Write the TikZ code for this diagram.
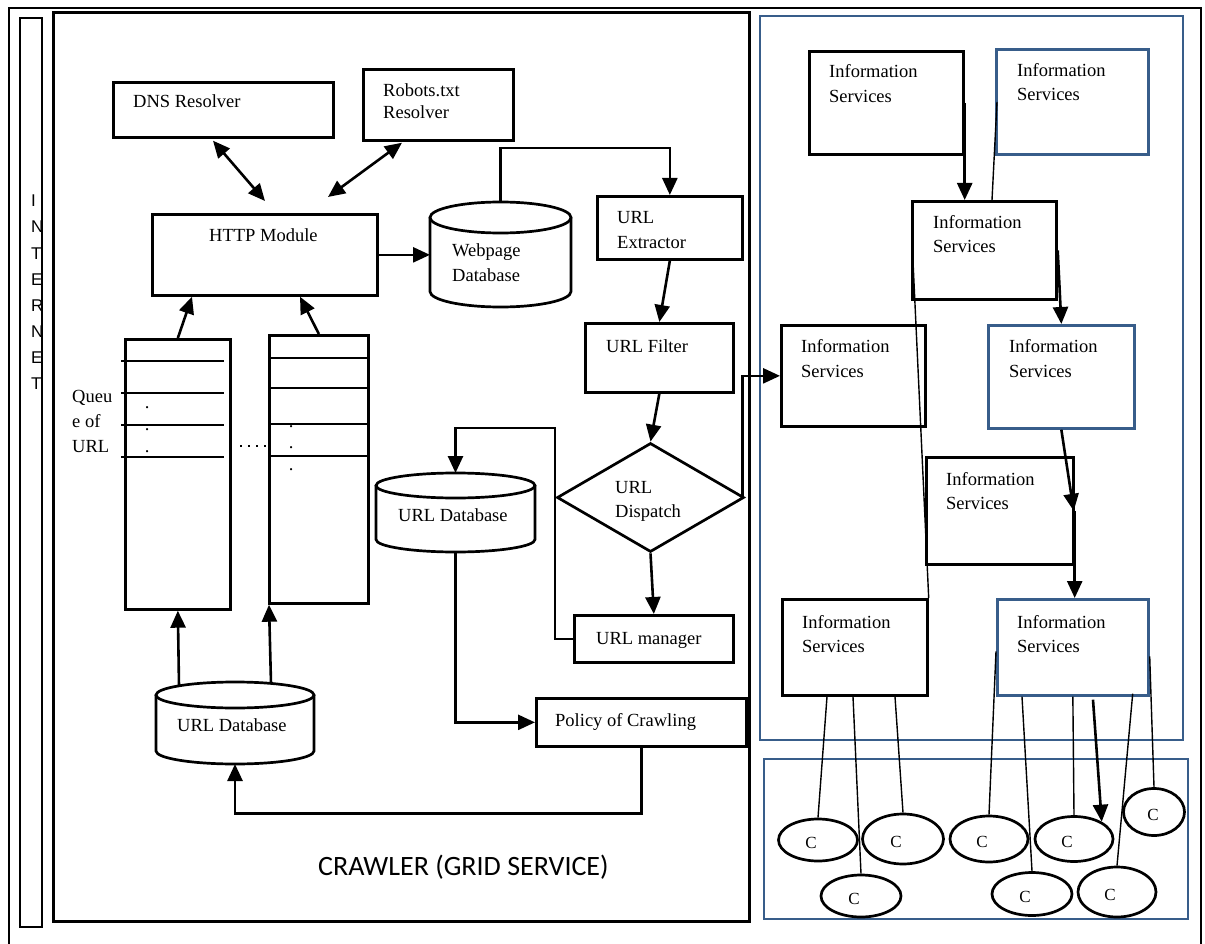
\documentclass[tikz,border=0pt]{standalone}
\usepackage{fontspec}
\setmainfont{Liberation Serif}
\newfontfamily\sansA{Liberation Sans}
\newfontfamily\calib{Carlito}
\usetikzlibrary{arrows.meta,shapes.geometric,calc}
\definecolor{frameblue}{HTML}{385D8A}
\newcommand\mycyl[6]{%
  \pgfmathsetmacro\cyCx{(#2+#4)/2}\pgfmathsetmacro\cyRx{(#4-#2)/2}%
  \pgfmathsetmacro\cyW{#4-#2}\pgfmathsetmacro\cyH{#5-#3}%
  \pgfmathsetmacro\cyYa{#3+#6}\pgfmathsetmacro\cyYb{#5-#6}%
  \node[inner sep=0pt, outer sep=0pt, minimum width=\cyW pt, minimum height=\cyH pt, anchor=north west] (#1) at (#2,#3) {};
  \draw[line width=2.7pt] (\cyCx,\cyYa) ellipse [x radius=\cyRx pt, y radius=#6pt];
  \draw[line width=2.7pt] (#2,\cyYa) -- (#2,\cyYb) arc[start angle=180,end angle=360,x radius=\cyRx pt,y radius=#6pt] -- (#4,\cyYa);
}
\tikzset{
  box/.style={draw, line width=2.7pt, inner sep=0pt, anchor=north west},
  bbox/.style={box, draw=frameblue},
  txt/.style={anchor=base west, inner sep=0pt, font=\fontsize{18.5}{22}\selectfont},
  itxt/.style={anchor=base west, inner sep=0pt, font=\sansA\fontsize{17}{17}\selectfont},
  arr/.style={line width=2.6pt, -{Triangle[length=17pt,width=15pt]}},
  darr/.style={line width=2.6pt, {Triangle[length=17pt,width=15pt]}-{Triangle[length=17pt,width=15pt]}},
  thinline/.style={line width=1.4pt},
  qline/.style={line width=2.2pt},
  cnode/.style={ellipse, draw, line width=2.7pt, inner sep=0pt,
     label={[inner sep=0pt, font=\fontsize{17}{17}\selectfont, xshift=#1, yshift=-3pt]center:C}},
  cnode/.default=-7pt
}
\begin{document}
\begin{tikzpicture}[x=1pt,y=-1pt]
\useasboundingbox (0,0) rectangle (1205,944);
\clip (0,0) rectangle (1205,944);
% frames
\node[box, line width=2pt, minimum width=1192pt, minimum height=960pt] (outer) at (8,7) {};
\node[box, line width=2.2pt, minimum width=22pt, minimum height=909pt] (inetbar) at (19,17) {};
\node[box, line width=3pt, minimum width=696pt, minimum height=909pt] (crawler) at (52,11) {};
\node[bbox, line width=2.3pt, minimum width=423pt, minimum height=724pt] (isframe) at (759,15) {};
\node[bbox, line width=2.3pt, minimum width=424pt, minimum height=160pt] (cframe) at (763,758) {};
% INTERNET
\foreach \l [count=\i from 0] in {I,N,T,E,R,N,E,T}
  \node[itxt] (inet\i) at (31,{207+26*\i}) {\l};
% crawler boxes
\node[box, minimum width=220pt, minimum height=55pt] (dns) at (112,81) {};
\node[box, minimum width=150pt, minimum height=71pt] (robots) at (362,68) {};
\node[box, minimum width=225pt, minimum height=81pt] (http) at (151,213) {};
\node[box, minimum width=145pt, minimum height=63pt] (ext) at (596,195) {};
\node[box, minimum width=148pt, minimum height=69pt] (filter) at (584,322) {};
\node[box, minimum width=159pt, minimum height=47pt] (manager) at (573,614) {};
\node[box, minimum width=210pt, minimum height=48pt] (policy) at (535,697) {};
\node[box, minimum width=105pt, minimum height=270pt] (q1) at (124,338) {};
\node[box, minimum width=99pt, minimum height=268pt] (q2) at (268,334) {};
\node[diamond, draw, line width=2.7pt, inner sep=0pt, minimum width=187pt, minimum height=109pt] (disp) at (650.5,497.5) {};
\mycyl{wdb}{430}{202}{571}{307}{15.5}
\mycyl{udbm}{376}{473}{535}{552}{12.5}
\mycyl{udbb}{156}{682}{314}{764}{13}
% queue lines
\foreach \y in {361,393,425,457} \draw[qline] (121,\y) -- (224,\y);
\foreach \y in {358,388,424,456} \draw[qline] (268,\y) -- (367,\y);
\draw[line width=2pt, dash pattern=on 2pt off 6pt] (240,446) -- (268,446);
\node[txt] (qd1) at (144.7,408.5) {.};
\node[txt] (qd2) at (144.7,430.5) {.};
\node[txt] (qd3) at (144.7,452.5) {.};
\node[txt] (qd4) at (288.7,427.5) {.};
\node[txt] (qd5) at (288.7,448.5) {.};
\node[txt] (qd6) at (288.7,470.5) {.};
% texts
\node[txt] (tdns) at (133,108) {DNS Resolver};
\node[txt] (trob1) at (383,97) {Robots.txt};
\node[txt] (trob2) at (383,119) {Resolver};
\node[txt] (thttp) at (209,242) {HTTP Module};
\node[txt] (twdb1) at (452,257) {Webpage};
\node[txt] (twdb2) at (452,281) {Database};
\node[txt] (text1) at (617,224) {URL};
\node[txt] (text2) at (617,249) {Extractor};
\node[txt] (tfil) at (606,352) {URL Filter};
\node[txt] (tdis1) at (615,493) {URL};
\node[txt] (tdis2) at (615,517) {Dispatch};
\node[txt] (tman) at (596,644) {URL manager};
\node[txt] (tpol) at (555,726) {Policy of Crawling};
\node[txt] (tudbm) at (398,521) {URL Database};
\node[txt] (tudbb) at (177,731) {URL Database};
\node[txt] (tq1) at (72,402) {Queu};
\node[txt] (tq2) at (72,427) {e of};
\node[txt] (tq3) at (72,452) {URL};
\node[anchor=base west, inner sep=0pt, font=\calib\fontsize{28}{28}\selectfont] (tcrawl) at (318,875) {CRAWLER (GRID SERVICE)};
% information services
\node[box, minimum width=154pt, minimum height=103pt] (is1) at (808,50) {};
\node[bbox, minimum width=152pt, minimum height=105pt] (is2) at (995,48) {};
\node[box, minimum width=144pt, minimum height=98pt] (is3) at (911,200) {};
\node[box, minimum width=144pt, minimum height=101pt] (is4) at (780,324) {};
\node[bbox, minimum width=146pt, minimum height=103pt] (is5) at (987,324) {};
\node[box, minimum width=147pt, minimum height=107pt] (is7) at (925,456) {};
\node[box, minimum width=145pt, minimum height=96pt] (is6) at (781,598) {};
\node[bbox, minimum width=151pt, minimum height=96pt] (is8) at (996,598) {};
\node[txt] (tis1a) at (829,78) {Information};
\node[txt] (tis1b) at (829,103) {Services};
\node[txt] (tis2a) at (1017,77) {Information};
\node[txt] (tis2b) at (1017,101) {Services};
\node[txt] (tis3a) at (933,229) {Information};
\node[txt] (tis3b) at (933,253) {Services};
\node[txt] (tis4a) at (801,352) {Information};
\node[txt] (tis4b) at (801,377) {Services};
\node[txt] (tis5a) at (1009,352) {Information};
\node[txt] (tis5b) at (1009,377) {Services};
\node[txt] (tis7a) at (946,485) {Information};
\node[txt] (tis7b) at (946,509) {Services};
\node[txt] (tis6a) at (802,628) {Information};
\node[txt] (tis6b) at (802,652) {Services};
\node[txt] (tis8a) at (1017,628) {Information};
\node[txt] (tis8b) at (1017,652) {Services};
% crawler connectors
\draw[darr] ([xshift=101pt,yshift=-2pt]dns.south west) -- ([xshift=114pt,yshift=12pt]http.north west);
\draw[darr] ([xshift=40pt,yshift=-1pt]robots.south west) -- ([xshift=177pt,yshift=16pt]http.north west);
\draw[arr] (http.east) -- (http.east -| wdb.west);
\draw[arr] (wdb.north) -- ++(0,-54) -| (ext.north);
\draw[arr] (ext.south) -- (filter.north);
\draw[arr] (filter.south) -- (disp.north);
\draw[arr] (disp.south) -- (manager.north);
\draw[arr] (manager.west) -- ++(-18,0) -- ++(0,-211) -| (udbm.north);
\draw[arr] (udbm.south) |- (policy.west);
\draw[arr] (policy.south) -- ++(0,66) -| (udbb.south);
\draw[arr] ([xshift=23pt,yshift=-4pt]udbb.north west) -- (q1.south);
\draw[arr] ([xshift=115pt,yshift=-1.4pt]udbb.north west) -- ([xshift=1pt]q2.south west);
\draw[arr] (q1.north) -- ([xshift=41pt]http.south west);
\draw[arr] (q2.north) -- ([xshift=149pt]http.south west);
\draw[arr] ([xshift=-3pt]disp.east) |- (is4.west);
% IS connectors
\draw[arr] (is1.east) -- (is1.east |- is3.north);
\draw[thinline] ([xshift=2pt]is2.west) -- ([xshift=81pt]is3.north west);
\draw[arr] (is3.east) -- (is5.north);
\draw[thinline] ([xshift=2pt,yshift=-11pt]is3.west) -- (is6.north east);
\draw[arr] (is5.south) -- ([xshift=-1pt]is7.east);
\draw[arr] (is7.east) -- (is7.east |- is8.north);
% clients
\node[cnode, minimum width=79pt, minimum height=42pt] (c1) at (818,840) {};
\node[cnode, minimum width=81pt, minimum height=50pt] (c2) at (903,839) {};
\node[cnode, minimum width=80pt, minimum height=42pt] (c3) at (861,896) {};
\node[cnode, minimum width=78pt, minimum height=46pt] (c4) at (989,839) {};
\node[cnode, minimum width=78pt, minimum height=45pt] (c5) at (1074,839) {};
\node[cnode=-1pt, minimum width=61pt, minimum height=47pt] (c6) at (1154,812) {};
\node[cnode, minimum width=80pt, minimum height=43pt] (c7) at (1032,894) {};
\node[cnode, minimum width=78pt, minimum height=50pt] (c8) at (1117,892) {};
\draw[thinline] ([xshift=46pt]is6.south west) -- (c1.north);
\draw[thinline] ([xshift=72pt]is6.south west) -- (c3.north);
\draw[thinline] ([xshift=114pt]is6.south west) -- (c2.north);
\draw[thinline] ([yshift=-4pt]is8.west) -- (c4.north);
\draw[thinline] ([xshift=26pt]is8.south west) -- (c7.north);
\draw[thinline] (is8.south) -- (c5.north);
\draw[arr] ([xshift=97pt,yshift=-3pt]is8.south west) -- (c5.32);
\draw[thinline] ([xshift=-17pt,yshift=3pt]is8.south east) -- (c8.north);
\draw[thinline] ([yshift=-9pt]is8.east) -- (c6.north);
\end{tikzpicture}
\end{document}
